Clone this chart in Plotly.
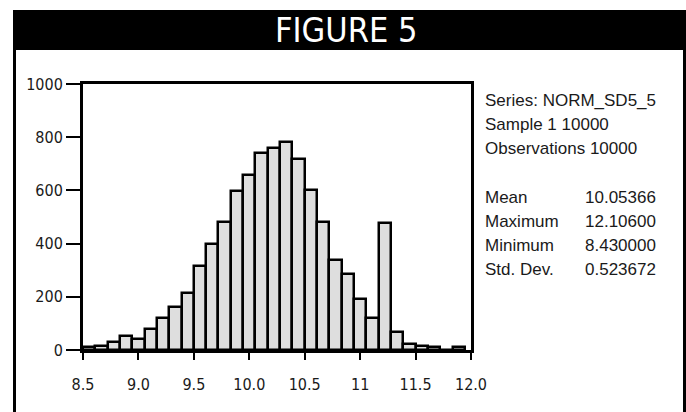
import plotly.graph_objects as go

# ---------------- data ----------------
bin_start = 8.5
bin_width = 1.0 / 9.0
counts = [10, 15, 31, 52, 40, 79, 119, 163, 213, 315, 400,
          480, 597, 659, 742, 759, 782, 717, 602, 482, 338,
          285, 193, 119, 478, 68, 21, 16, 11, 0, 10]
x_tick_vals = [8.5, 9.0, 9.5, 10.0, 10.5, 11.0, 11.5, 12.0]
x_tick_text = ["8.5", "9.0", "9.5", "10.0", "10.5", "11", "11.5", "12.0"]
y_tick_vals = [0, 200, 400, 600, 800, 1000]
title_text = "FIGURE 5"
info_lines = ["Series: NORM_SD5_5", "Sample 1 10000", "Observations 10000"]
stat_labels = ["Mean", "Maximum", "Minimum", "Std. Dev."]
stat_values = ["10.05366", "12.10600", "8.430000", "0.523672"]

centers = [bin_start + (i + 0.5) * bin_width for i in range(len(counts))]

# ---------------- layout geometry (pixels) ----------------
W, H = 686, 412
PL, PR, PT, PB = 83, 471, 84, 350


def px(xp):
    return (xp - PL) / (PR - PL)


def py(yp):
    return (PB - yp) / (PB - PT)


NARROW = "Liberation Sans Narrow, DejaVu Sans Condensed, Arial Narrow, sans-serif"
REG = "Liberation Sans, Arial, sans-serif"

fig = go.Figure()
fig.add_trace(go.Bar(
    x=centers, y=counts, width=bin_width,
    marker=dict(color="#dedede", line=dict(color="black", width=2.5)),
    hoverinfo="skip",
))

shapes = [
    dict(type="rect", xref="paper", yref="paper",
         x0=px(13), x1=px(687), y0=py(10), y1=py(50),
         fillcolor="black", line=dict(width=0), layer="above"),
    dict(type="line", xref="paper", yref="paper",
         x0=px(14.5), x1=px(14.5), y0=py(49), y1=py(413),
         line=dict(color="black", width=3)),
    dict(type="line", xref="paper", yref="paper",
         x0=px(684.5), x1=px(684.5), y0=py(49), y1=py(413),
         line=dict(color="black", width=3)),
]

annotations = [
    dict(text=title_text, xref="paper", yref="paper", x=px(346), y=py(30),
         xanchor="center", yanchor="middle", showarrow=False,
         font=dict(family=NARROW, size=34, color="white")),
]
line_h = 24
for i, t in enumerate(info_lines):
    annotations.append(dict(text=t, xref="paper", yref="paper",
                            x=px(483), y=py(100 + i * line_h),
                            xanchor="left", yanchor="middle", showarrow=False,
                            font=dict(family=REG, size=17, color="#1a1a1a")))
for i, (lab, val) in enumerate(zip(stat_labels, stat_values)):
    yy = py(197 + i * line_h)
    annotations.append(dict(text=lab, xref="paper", yref="paper",
                            x=px(483), y=yy, xanchor="left", yanchor="middle",
                            showarrow=False,
                            font=dict(family=REG, size=17, color="#1a1a1a")))
    annotations.append(dict(text=val, xref="paper", yref="paper",
                            x=px(658), y=yy, xanchor="right", yanchor="middle",
                            showarrow=False,
                            font=dict(family=REG, size=17, color="#1a1a1a")))

fig.update_layout(
    width=W, height=H, autosize=False,
    margin=dict(l=PL, r=W - PR, t=PT, b=H - PB, pad=0),
    paper_bgcolor="white", plot_bgcolor="white",
    showlegend=False, bargap=0,
    shapes=shapes, annotations=annotations,
    xaxis=dict(range=[8.5, 12.0], tickvals=x_tick_vals, ticktext=x_tick_text,
               ticks="outside", ticklen=7, tickwidth=2, tickcolor="black",
               showline=True, linecolor="black", linewidth=3, mirror=True,
               showgrid=False, zeroline=False, ticklabelstandoff=11,
               tickfont=dict(family=NARROW, size=16, color="#1a1a1a")),
    yaxis=dict(range=[0, 1000], tickvals=y_tick_vals,
               ticks="outside", ticklen=14, tickwidth=2, tickcolor="black",
               showline=True, linecolor="black", linewidth=3, mirror=True,
               showgrid=False, zeroline=False,
               tickfont=dict(family=NARROW, size=16, color="#1a1a1a")),
)

fig.write_html("out.html")
